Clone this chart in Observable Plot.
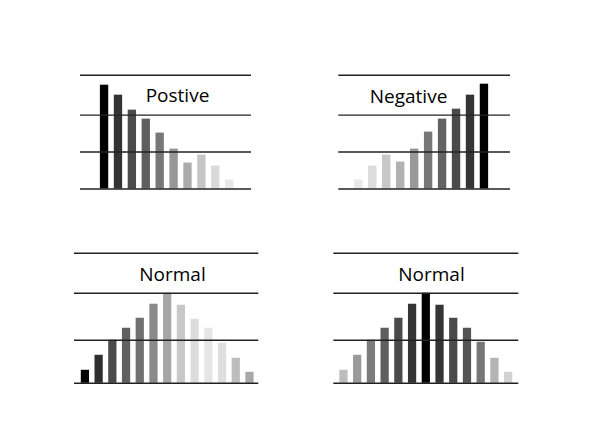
<!DOCTYPE html>
<html>
<head>
<meta charset="utf-8">
<script src="https://cdn.jsdelivr.net/npm/d3@7"></script>
<script src="https://cdn.jsdelivr.net/npm/@observablehq/plot@0.6"></script>
<style>
  html, body { margin: 0; padding: 0; background: #fff; }
  #chart { position: relative; width: 600px; height: 436px; background: #fff; overflow: hidden; }
  #chart > div { position: absolute; }
  svg { display: block; }
</style>
</head>
<body>
<div id="chart"></div>
<script>
// ---- data ----
const skewCategories = ["1","2","3","4","5","6","7","8","9","10"];
const normalCategories = ["1","2","3","4","5","6","7","8","9","10","11","12","13"];

const positiveTitle = "Postive";
const positiveValues = [104, 94, 79, 70, 56, 40, 26, 34, 23, 9];
const negativeTitle = "Negative";
const negativeValues = [9, 23, 34, 27, 40, 57, 70, 80, 94, 105];
const skewGridLevels = [0, 37, 74, 114];

const normalTitle = "Normal";
const normalValuesA = [13, 28, 43, 55, 65, 79, 90, 78, 64, 55, 40, 25, 11];
const normalValuesB = [13, 28, 43, 55, 65, 79, 90, 78, 65, 55, 41, 25, 11];
const normalGridLevels = [0, 43, 90, 130];

// ---- styles ----
const shadesPositive = ["#000000","#333333","#4b4b4b","#5f5f5f","#787878","#979797","#ababab","#c6c6c6","#d9d9d9","#e8e8e8"];
const shadesNegative = ["#e8e8e8","#dcdcdc","#c8c8c8","#b2b2b2","#999999","#777777","#636363","#4b4b4b","#343434","#000000"];
const shadesNormalA = ["#000000","#2e2e2e","#4b4b4b","#606060","#707070","#8a8a8a","#a6a6a6","#c8c8c8","#dcdcdc","#e6e6e6","#dedede","#bdbdbd","#a8a8a8"];
const shadesNormalB = ["#bdbdbd","#9a9a9a","#7b7b7b","#5f5f5f","#4a4a4a","#353535","#000000","#353535","#4a4a4a","#555555","#777777","#b3b3b3","#d2d2d2"];

const panels = [
  { cats: skewCategories, values: positiveValues, levels: skewGridLevels, title: positiveTitle, shades: shadesPositive,
    left: 70, top: 60, width: 200, height: 140, mL: 10, mR: 19, mT: 14.7, mB: 11.5,
    pOuter: 1.35, align: 0.53, tdx: 97, tdy: 26.3 },
  { cats: skewCategories, values: negativeValues, levels: skewGridLevels, title: negativeTitle, shades: shadesNegative,
    left: 330, top: 60, width: 200, height: 140, mL: 8.3, mR: 20, mT: 14.7, mB: 11.5,
    pOuter: 1.35, align: 0.42, tdx: 69.7, tdy: 27.6 },
  { cats: normalCategories, values: normalValuesA, levels: normalGridLevels, title: normalTitle, shades: shadesNormalA,
    left: 60, top: 240, width: 210, height: 150, mL: 14, mR: 11.7, mT: 12.7, mB: 7.2,
    pOuter: 0.42, align: 0.59, tdx: 98, tdy: 28 },
  { cats: normalCategories, values: normalValuesB, levels: normalGridLevels, title: normalTitle, shades: shadesNormalB,
    left: 325, top: 240, width: 200, height: 150, mL: 8.3, mR: 6.7, mT: 12.7, mB: 7.2,
    pOuter: 0.44, align: 0.5, tdx: 97.7, tdy: 28 }
];

const chart = document.getElementById("chart");

for (const p of panels) {
  const data = p.cats.map((c, i) => ({ cat: c, value: p.values[i] }));
  const plot = Plot.plot({
    width: p.width,
    height: p.height,
    marginLeft: p.mL,
    marginRight: p.mR,
    marginTop: p.mT,
    marginBottom: p.mB,
    style: { fontFamily: "'Open Sans', sans-serif", background: "transparent", overflow: "visible" },
    x: { type: "band", domain: p.cats, paddingInner: 0.4, paddingOuter: p.pOuter, align: p.align, round: false, axis: null },
    y: { domain: [0, p.levels[p.levels.length - 1]], axis: null },
    color: { type: "ordinal", domain: p.cats, range: p.shades },
    marks: [
      Plot.barY(data, { x: "cat", y: "value", fill: "cat" }),
      Plot.ruleY(p.levels, { stroke: "#222", strokeWidth: 1.4 }),
      Plot.text([p.title], {
        frameAnchor: "top-left", dx: p.tdx, dy: p.tdy,
        textAnchor: "middle", lineAnchor: "bottom",
        fontSize: 19, fill: "#000"
      })
    ]
  });
  const holder = document.createElement("div");
  holder.style.left = p.left + "px";
  holder.style.top = p.top + "px";
  holder.appendChild(plot);
  chart.appendChild(holder);
}
</script>
</body>
</html>
